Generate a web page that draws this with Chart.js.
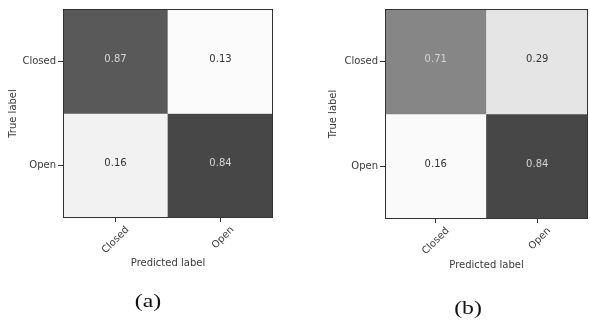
<!DOCTYPE html>
<html>
<head>
<meta charset="utf-8">
<script src="https://cdn.jsdelivr.net/npm/chart.js@4.4.1/dist/chart.umd.min.js"></script>
<style>
  html,body{margin:0;padding:0;background:#fff;}
  body{width:590px;height:323px;overflow:hidden;position:relative;}
  .box{position:absolute;top:0;height:323px;}
  .cap{position:absolute;font-family:"Liberation Serif","Times New Roman",serif;font-size:19px;color:#111;
       transform:translate(-50%,-50%) scaleX(1.25);white-space:nowrap;}
</style>
</head>
<body>
<div class="box" id="boxA" style="left:0;width:290px;"><canvas id="cmA"></canvas></div>
<div class="box" id="boxB" style="left:290px;width:300px;"><canvas id="cmB"></canvas></div>
<div class="cap" style="left:148px;top:301px;">(a)</div>
<div class="cap" style="left:468px;top:308px;">(b)</div>
<script>
// classes, rows = true label, columns = predicted label
const classes = ['Closed', 'Open'];
const aClosed = [0.87, 0.13];
const aOpen   = [0.16, 0.84];
const bClosed = [0.71, 0.29];
const bOpen   = [0.16, 0.84];

// cell greys
const shadeA = [['#595959', '#fbfbfb'], ['#f2f2f2', '#474747']];
const shadeB = [['#868686', '#e5e5e5'], ['#fafafa', '#474747']];

Chart.defaults.font.family = 'DejaVu Sans';
Chart.defaults.font.size = 10;
Chart.defaults.color = '#3a3a3a';
Chart.defaults.animation = false;

const cellText = {
  id: 'cellText',
  afterDatasetsDraw(chart){
    const ctx = chart.ctx;
    ctx.save();
    ctx.font = '10px "DejaVu Sans"';
    ctx.textAlign = 'center';
    ctx.textBaseline = 'middle';
    chart.data.datasets.forEach((ds, i) => {
      chart.getDatasetMeta(i).data.forEach((bar, j) => {
        const v = ds.vals[j];
        ctx.fillStyle = v > 0.5 ? '#d4d4d4' : '#333';
        ctx.fillText(v.toFixed(2), bar.x, (bar.y + bar.base) / 2 - 2);
      });
    });
    // frame round the matrix
    const a = chart.chartArea;
    ctx.strokeStyle = '#333';
    ctx.lineWidth = 1;
    ctx.strokeRect(Math.round(a.left) + 0.5, Math.round(a.top) + 0.5,
                   Math.round(a.right - a.left) - 1, Math.round(a.bottom - a.top) - 1);
    ctx.restore();
  }
};

function makeMatrix(id, rows, shades, opt){
  const datasets = rows.map((row, i) => ({
    vals: row,
    data: classes.map(c => ({x: c, y: [i - 0.5, i + 0.5]})),
    backgroundColor: shades[i],
    borderWidth: 0,
    barPercentage: 1,
    categoryPercentage: 1,
    grouped: false
  }));
  return new Chart(document.getElementById(id), {
    type: 'bar',
    data: {labels: classes, datasets},
    options: {
      responsive: true,
      maintainAspectRatio: false,
      layout: {padding: {top: 9, left: opt.padLeft, right: opt.padRight, bottom: 50}},
      plugins: {legend: {display: false}, tooltip: {enabled: false}},
      scales: {
        x: {
          grid: {display: true, drawOnChartArea: false, offset: false, tickLength: 4, color: '#333'},
          border: {display: false},
          ticks: {minRotation: 45, maxRotation: 45, autoSkip: false, padding: 2, labelOffset: 12},
          title: {display: true, text: 'Predicted label', padding: {top: 0, bottom: opt.xTitlePad}},
          afterFit: s => { s.height = opt.xHeight; }
        },
        y: {
          type: 'linear',
          min: -0.5, max: 1.5,
          reverse: true,
          afterBuildTicks: s => { s.ticks = classes.map((c, i) => ({value: i})); },
          grid: {display: true, drawOnChartArea: false, tickLength: 5, color: '#333'},
          border: {display: false},
          ticks: {padding: 2, callback: v => classes[v]},
          title: {display: true, text: 'True label', padding: {top: 7, bottom: 0}},
          afterFit: s => { s.width = opt.yWidth; }
        }
      }
    },
    plugins: [cellText]
  });
}

makeMatrix('cmA', [aClosed, aOpen], shadeA, {padLeft: 0, padRight: 17, yWidth: 63, xHeight: 55, xTitlePad: 4});
makeMatrix('cmB', [bClosed, bOpen], shadeB, {padLeft: 30, padRight: 2, yWidth: 65, xHeight: 54, xTitlePad: 2});
</script>
</body>
</html>
